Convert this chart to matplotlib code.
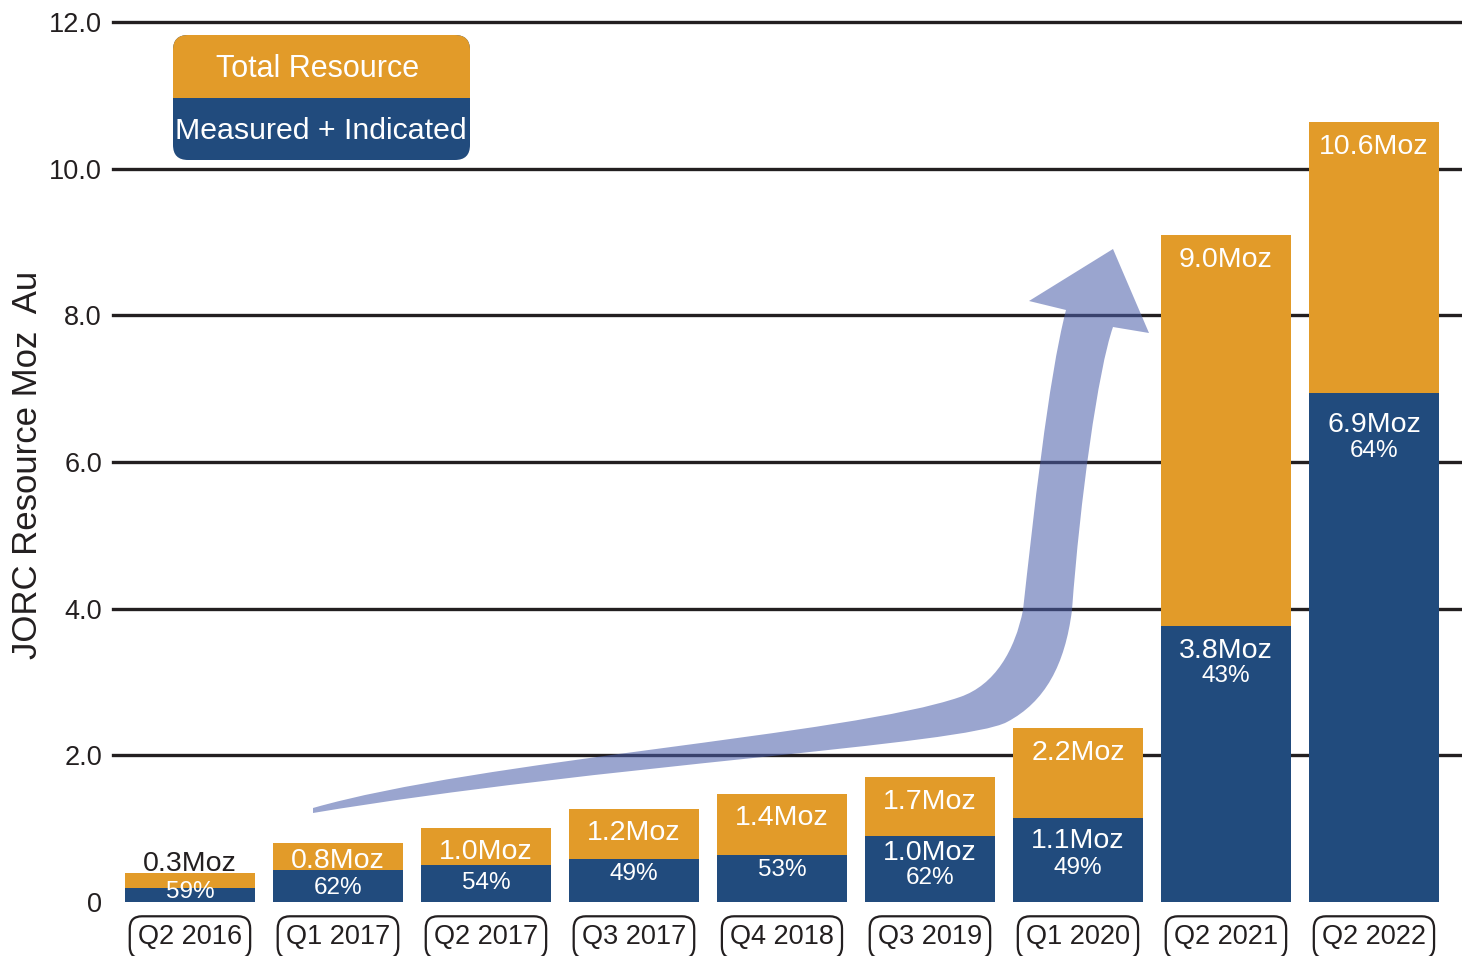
import matplotlib
matplotlib.use("Agg")
import matplotlib.pyplot as plt
from matplotlib.patches import FancyBboxPatch, Rectangle, PathPatch
from matplotlib.path import Path

# data (Moz Au)
periods = ["Q2 2016", "Q1 2017", "Q2 2017", "Q3 2017", "Q4 2018",
           "Q3 2019", "Q1 2020", "Q2 2021", "Q2 2022"]
total_moz = [0.40, 0.80, 1.01, 1.27, 1.47, 1.70, 2.37, 9.09, 10.63]
mi_moz = [0.19, 0.44, 0.50, 0.59, 0.64, 0.90, 1.15, 3.77, 6.94]
total_labels = ["0.3Moz", "0.8Moz", "1.0Moz", "1.2Moz", "1.4Moz",
                "1.7Moz", "2.2Moz", "9.0Moz", "10.6Moz"]
mi_labels = ["", "", "", "", "", "1.0Moz", "1.1Moz", "3.8Moz", "6.9Moz"]
pct_labels = ["59%", "62%", "54%", "49%", "53%", "62%", "49%", "43%", "64%"]
yticks = [0, 2, 4, 6, 8, 10, 12]
ytick_labels = ["0", "2.0", "4.0", "6.0", "8.0", "10.0", "12.0"]

ORANGE = "#e29b29"
BLUE = "#214b7d"
GRID = "#231f20"

# label offsets in points (from top of each segment)
total_dy = [6, -13, -17.5, -17.5, -17, -17.5, -17.5, -17.5, -17.5]
mi_dy = [0, 0, 0, 0, 0, -12, -16.5, -18, -23]
pct_dy = [-3, -13.5, -12.5, -11, -11, -30.5, -36.5, -36.5, -41.5]

plt.rcParams["font.family"] = ["Liberation Sans", "DejaVu Sans"]

fig = plt.figure(figsize=(14.62, 9.56), dpi=100)
ax = fig.add_axes([113 / 1462, 1 - 902 / 956, 1 - 113 / 1462, (902 - 22) / 956])
ax.set_xlim(-0.52, 8.595)
ax.set_ylim(0, 12)

for v in yticks[1:]:
    ax.axhline(v, color=GRID, lw=2.4, zorder=1, clip_on=False)

x = list(range(len(periods)))
ax.bar(x, total_moz, width=0.88, color=ORANGE, zorder=3)
ax.bar(x, mi_moz, width=0.88, color=BLUE, zorder=4)

for i in x:
    col = "#231f20" if i == 0 else "white"
    ax.annotate(total_labels[i], xy=(i, total_moz[i]), xytext=(0, total_dy[i]),
                textcoords="offset points", ha="center", va="center",
                fontsize=20.5, color=col, zorder=6)
    if mi_labels[i]:
        ax.annotate(mi_labels[i], xy=(i, mi_moz[i]), xytext=(0, mi_dy[i]),
                    textcoords="offset points", ha="center", va="center",
                    fontsize=20.5, color="white", zorder=6)
    ax.annotate(pct_labels[i], xy=(i, mi_moz[i]), xytext=(0, pct_dy[i]),
                textcoords="offset points", ha="center", va="center",
                fontsize=17.5, color="white", zorder=6)
    ax.annotate(periods[i], xy=(i, 0), xytext=(0, -25.5),
                textcoords="offset points", ha="center", va="center",
                fontsize=19.5, color="#231f20", annotation_clip=False,
                bbox=dict(boxstyle="round,pad=0.3,rounding_size=0.45",
                          fc="white", ec="#231f20", lw=1.6))

ax.set_xticks([])
ax.set_yticks(yticks)
ax.set_yticklabels(ytick_labels)
ax.tick_params(axis="y", length=0, pad=8, labelsize=19.5, labelcolor="#231f20")
for s in ax.spines.values():
    s.set_visible(False)

fig.text(28 / 1462, 1 - 465 / 956, "JORC Resource Moz  Au", rotation=90,
         ha="center", va="center", fontsize=25, color="#231f20")

# growth arrow, drawn in image pixels (converted to inches)
def px(p):
    return (p[0] / 100, (956 - p[1]) / 100)

M, C, L = Path.MOVETO, Path.CURVE4, Path.LINETO
arrow_pts = [
    ((313, 808), M),
    ((480, 760), C), ((850, 735), C), ((960, 697), C),
    ((995, 685), C), ((1015, 650), C), ((1023, 610), C),
    ((1033, 520), C), ((1048, 380), C), ((1066, 310), C),
    ((1029, 301), L), ((1113, 249), L), ((1149, 333), L), ((1113, 327), L),
    ((1098, 370), C), ((1080, 500), C), ((1072, 610), C),
    ((1065, 665), C), ((1045, 702), C), ((1007, 722), C),
    ((965, 745), C), ((600, 765), C), ((313, 813), C),
    ((313, 808), L),
]
arrow = Path([px(p) for p, _ in arrow_pts], [c for _, c in arrow_pts])
fig.add_artist(PathPatch(arrow, transform=fig.dpi_scale_trans,
                         fc="#4b5fab", ec="none", alpha=0.56, zorder=5))

# legend box
t = fig.dpi_scale_trans
fig.add_artist(FancyBboxPatch((1.73, (956 - 160) / 100), 2.97, 1.25,
                              boxstyle="round,pad=0,rounding_size=0.15",
                              fc=BLUE, ec="none", transform=t, zorder=7))
fig.add_artist(FancyBboxPatch((1.73, (956 - 98) / 100), 2.97, 0.63,
                              boxstyle="round,pad=0,rounding_size=0.15",
                              fc=ORANGE, ec="none", transform=t, zorder=8))
fig.add_artist(Rectangle((1.73, (956 - 98) / 100), 2.97, 0.25,
                         fc=ORANGE, ec="none", transform=t, zorder=8))
fig.text(318 / 1462, 1 - 69 / 956, "Total Resource", ha="center", va="center",
         fontsize=22, color="white", zorder=9)
fig.text(321 / 1462, 1 - 131 / 956, "Measured + Indicated", ha="center",
         va="center", fontsize=21.8, color="white", zorder=9)

fig.savefig("out.png", dpi=100)
